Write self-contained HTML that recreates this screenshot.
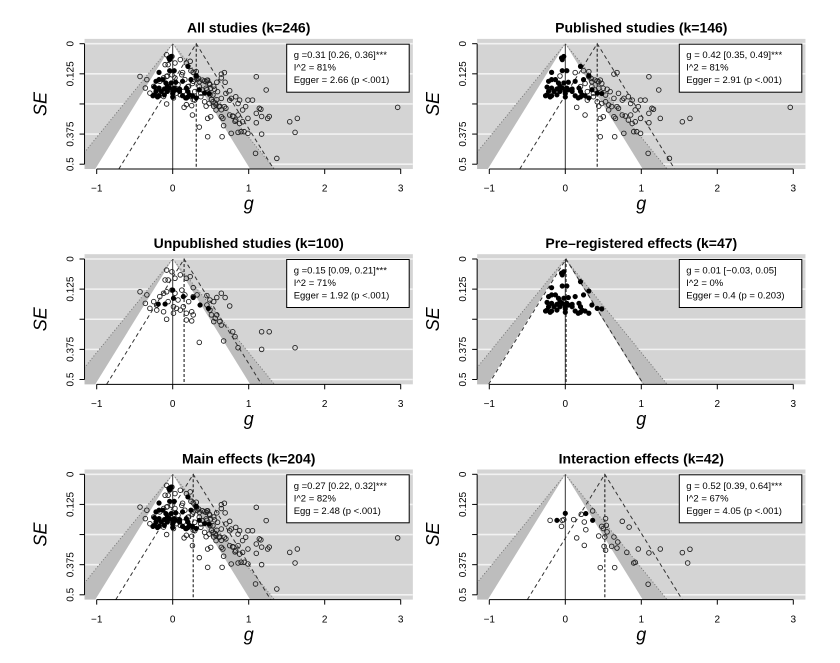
<!DOCTYPE html>
<html><head><meta charset="utf-8">
<style>
body{margin:0;background:#fff;}
svg{display:block;font-family:"Liberation Sans",sans-serif;}
</style></head>
<body>
<svg id="chart" width="840" height="663" viewBox="0 0 840 663" xmlns="http://www.w3.org/2000/svg"></svg>
<script>
const xTicks = [-1, 0, 1, 2, 3];
const xTickLabels = ["\u22121", "0", "1", "2", "3"];
const seTicks = [0, 0.125, 0.25, 0.375, 0.5];
const seTickLabels = ["0", "0.125", "", "0.375", "0.5"];

const preregPoints = [[-0.05,0.059],[-0.02,0.053],[-0.04,0.066],[0.20,0.094],[-0.04,0.112],[0.02,0.112],[-0.18,0.119],[0.31,0.133],[-0.18,0.149],[-0.22,0.156],[-0.13,0.149],[-0.09,0.163],[-0.02,0.163],[0.04,0.160],[0.13,0.156],[0.24,0.149],[-0.24,0.180],[-0.18,0.184],[-0.11,0.188],[-0.04,0.184],[0.02,0.184],[0.18,0.184],[0.04,0.191],[-0.22,0.198],[-0.15,0.198],[-0.07,0.198],[0,0.198],[0.09,0.198],[0.20,0.198],[0.35,0.191],[-0.24,0.212],[-0.18,0.216],[-0.11,0.212],[0,0.207],[0,0.221],[0.13,0.216],[0.20,0.221],[0.26,0.216],[0.31,0.225],[0.42,0.205],[0.48,0.207],[-0.26,0.216],[-0.20,0.221],[0.17,0.225],[0.22,0.212],[0.09,0.188],[-0.07,0.177]];

const publishedOpen = [[-0.07,0.134],[0.13,0.120],[0.24,0.112],[0.31,0.116],[0.34,0.144],[0.39,0.151],[0.42,0.155],[0.44,0.158],[0.46,0.151],[0.48,0.165],[0.35,0.178],[0.39,0.192],[0.44,0.185],[0.50,0.185],[0.55,0.189],[0.59,0.199],[0.64,0.126],[0.68,0.120],[0.35,0.158],[0.29,0.199],[0.37,0.220],[0.42,0.241],[0.44,0.259],[0.48,0.248],[0.53,0.241],[0.57,0.254],[0.61,0.261],[0.68,0.261],[0.75,0.234],[0.83,0.220],[0.88,0.234],[0.96,0.261],[0.92,0.275],[0.99,0.234],[1.05,0.234],[1.14,0.268],[1.10,0.289],[1.16,0.272],[1.25,0.310],[1.10,0.137],[1.23,0.192],[0.15,0.264],[0.26,0.296],[0.46,0.310],[0.50,0.303],[0.64,0.303],[0.66,0.310],[0.75,0.296],[0.79,0.300],[0.86,0.296],[0.88,0.331],[0.92,0.324],[0.99,0.310],[1.10,0.328],[0.77,0.372],[0.90,0.365],[0.94,0.365],[0.99,0.372],[0.46,0.386],[0.65,0.386],[0.83,0.317],[0.70,0.268],[0.57,0.275],[0.64,0.227],[0.29,0.234],[1.54,0.324],[1.64,0.310],[1.37,0.476],[1.09,0.455],[2.96,0.264],[0.53,0.213],[0.70,0.206],[0.77,0.227],[0.86,0.248],[0.26,0.165],[0.20,0.178],[0.31,0.137],[0.37,0.206]];

const unpublishedOpen = [[-0.08,0.046],[-0.01,0.053],[-0.10,0.087],[-0.06,0.087],[0.03,0.080],[0.10,0.066],[0.18,0.080],[0.23,0.073],[-0.43,0.136],[-0.34,0.149],[-0.36,0.184],[-0.25,0.177],[-0.17,0.156],[-0.12,0.142],[-0.08,0.136],[-0.01,0.129],[0.03,0.142],[0.12,0.129],[0.16,0.149],[0.27,0.119],[0.21,0.177],[0.27,0.156],[0.32,0.149],[-0.06,0.177],[0.01,0.198],[0.05,0.205],[-0.12,0.219],[-0.21,0.212],[-0.08,0.250],[0.01,0.225],[0.10,0.212],[0.14,0.198],[0.18,0.225],[0.25,0.219],[0.27,0.232],[0.18,0.253],[0.25,0.257],[0.45,0.152],[0.49,0.170],[0.54,0.177],[0.58,0.160],[0.64,0.142],[0.69,0.160],[0.75,0.195],[0.45,0.191],[0.49,0.212],[0.51,0.232],[0.56,0.246],[0.58,0.232],[0.62,0.260],[0.54,0.260],[0.64,0.274],[0.79,0.302],[0.82,0.322],[0.86,0.368],[0.67,0.340],[0.35,0.346],[1.17,0.302],[1.27,0.302],[1.17,0.375],[1.61,0.368],[-0.30,0.205],[-0.21,0.191],[0.07,0.170]];
const unpublishedFilled = [[0,0.129],[0.01,0.163],[-0.19,0.187],[-0.10,0.187],[0.14,0.156],[0.27,0.160],[0.36,0.191],[0.47,0.205]];

const interactionOpen = [[-0.20,0.191],[-0.04,0.191],[-0.02,0.188],[-0.05,0.216],[0.11,0.188],[0.21,0.166],[0.25,0.198],[0.27,0.230],[0.15,0.264],[0.25,0.295],[0.44,0.256],[0.36,0.152],[0.48,0.216],[0.53,0.184],[0.50,0.225],[0.54,0.212],[0.55,0.239],[0.52,0.260],[0.64,0.260],[0.69,0.281],[0.61,0.299],[0.51,0.299],[0.68,0.306],[0.53,0.315],[0.81,0.324],[0.75,0.195],[0.84,0.219],[0.96,0.310],[1.10,0.326],[1.25,0.310],[1.54,0.325],[1.64,0.311],[1.61,0.368],[0.90,0.368],[0.92,0.365],[0.46,0.387],[0.65,0.387],[1.09,0.456]];
const interactionFilled = [[-0.11,0.191],[0,0.162],[0.27,0.163],[0.36,0.191]];

const panelTitles = ["All studies (k=246)","Published studies (k=146)","Unpublished studies (k=100)","Pre\u2013registered effects (k=47)","Main effects (k=204)","Interaction effects (k=42)"];
const panelEstimates = [0.31, 0.42, 0.15, 0.01, 0.27, 0.52];
const panelLine1 = ["g =0.31 [0.26, 0.36]***","g = 0.42 [0.35, 0.49]***","g =0.15 [0.09, 0.21]***","g = 0.01 [\u22120.03, 0.05]","g =0.27 [0.22, 0.32]***","g = 0.52 [0.39, 0.64]***"];
const panelLine2 = ["I^2 = 81%","I^2 = 81%","I^2 = 71%","I^2 = 0%","I^2 = 82%","I^2 = 67%"];
const panelLine3 = ["Egger = 2.66 (p <.001)","Egger = 2.91 (p <.001)","Egger = 1.92 (p <.001)","Egger = 0.4 (p = 0.203)","Egg = 2.48 (p <.001)","Egger = 4.05 (p <.001)"];
const panelOpen = [publishedOpen.concat(unpublishedOpen), publishedOpen, unpublishedOpen, [], publishedOpen.concat(unpublishedOpen), interactionOpen];
const panelFilled = [preregPoints, preregPoints, unpublishedFilled, preregPoints, preregPoints, interactionFilled];

const NS = "http://www.w3.org/2000/svg";
const svg = document.getElementById("chart");
function mk(tag, attrs, parent){const e=document.createElementNS(NS,tag);for(const k in attrs)e.setAttribute(k,attrs[k]);(parent||svg).appendChild(e);return e;}

const colOff = [0, 392.6];
const rowY = [43.7, 259, 474.3];
for (let p=0;p<6;p++){
  const xo = colOff[p%2], y0 = rowY[Math.floor(p/2)];
  const gx = g => 172.7 + xo + 76*g;
  const sy = s => y0 + 241*s;
  const G = mk("g",{});
  
  
  const cid = "clip"+p;
  const cp = mk("clipPath",{id:cid},G);
  mk("rect",{x:gx(-1.16),y:sy(-0.02),width:gx(3.16)-gx(-1.16),height:sy(0.52)-sy(-0.02)},cp);
  const bg = mk("rect",{x:gx(-1.16),y:sy(-0.02),width:gx(3.16)-gx(-1.16),height:sy(0.52)-sy(-0.02),fill:"#d4d4d4"},G);
  
  
  const C = mk("g",{"clip-path":"url(#"+cid+")"},G);
  seTicks.forEach(s=>{mk("line",{x1:gx(-1.16),x2:gx(3.16),y1:sy(s),y2:sy(s),stroke:"#f2f2f2","stroke-width":1.6},C);});
  const sb=0.52, z99=2.576, z95=1.96;
  const band = mk("polygon",{points:`${gx(0)},${sy(0)} ${gx(-z99*sb)},${sy(sb)} ${gx(z99*sb)},${sy(sb)}`,fill:"#bdbdbd"},C);
  
  
  const wt = mk("polygon",{points:`${gx(0)},${sy(0)} ${gx(-z95*sb)},${sy(sb)} ${gx(z95*sb)},${sy(sb)}`,fill:"#ffffff"},C);
  
  
  mk("polyline",{points:`${gx(-z99*sb)},${sy(sb)} ${gx(0)},${sy(0)} ${gx(z99*sb)},${sy(sb)}`,fill:"none",stroke:"#777","stroke-width":1,"stroke-dasharray":"1,2"},C);
  const est = panelEstimates[p];
  const df = mk("polyline",{points:`${gx(est-z95*sb)},${sy(sb)} ${gx(est)},${sy(0)} ${gx(est+z95*sb)},${sy(sb)}`,fill:"none",stroke:"#333","stroke-width":1,"stroke-dasharray":"4,3"},C);
  
  
  mk("line",{x1:gx(0),x2:gx(0),y1:sy(0),y2:sy(sb),stroke:"#333","stroke-width":1},C);
  const ve = mk("line",{x1:gx(est),x2:gx(est),y1:sy(0),y2:sy(sb),stroke:"#333","stroke-width":1.2,"stroke-dasharray":"3,2"},C);
  
  
  panelOpen[p].forEach(d=>{
    const c = mk("circle",{cx:gx(d[0]),cy:sy(d[1]),r:2.3,fill:"none",stroke:"#222","stroke-width":0.9},C);
    
    
  });
  panelFilled[p].forEach(d=>{
    const c = mk("circle",{cx:gx(d[0]),cy:sy(d[1]),r:2.3,fill:"#000",stroke:"#000","stroke-width":0.6},C);
    
    
  });
  const xb = sy(0.52);
  mk("line",{x1:gx(-1),x2:gx(3),y1:xb,y2:xb,stroke:"#000","stroke-width":1},G);
  xTicks.forEach((t,i)=>{
    mk("line",{x1:gx(t),x2:gx(t),y1:xb,y2:xb+5,stroke:"#000","stroke-width":1},G);
    const tl = mk("text",{x:gx(t),y:y0+148,"font-size":10,"text-anchor":"middle",fill:"#000"},G);
    tl.textContent = xTickLabels[i];
    
    
  });
  const yl = gx(-1.16);
  mk("line",{x1:yl,x2:yl,y1:sy(0),y2:sy(0.5),stroke:"#000","stroke-width":1},G);
  seTicks.forEach((s,i)=>{
    mk("line",{x1:yl-5,x2:yl,y1:sy(s),y2:sy(s),stroke:"#000","stroke-width":1},G);
    const tl = mk("text",{x:0,y:0,"font-size":10,"text-anchor":"middle",fill:"#000",transform:`translate(${yl-11},${sy(s)}) rotate(-90)`},G);
    tl.textContent = seTickLabels[i];
    
    
  });
  const ttl = mk("text",{x:gx(1),y:y0-11,"font-size":14,"font-weight":"bold","text-anchor":"middle",fill:"#000"},G);
  ttl.textContent = panelTitles[p];
  
  
  const xt = mk("text",{x:gx(1),y:y0+166,"font-size":18,"font-style":"italic","text-anchor":"middle",fill:"#000"},G);
  xt.textContent = "g";
  
  
  const ytt = mk("text",{x:0,y:0,"font-size":18,"font-style":"italic","text-anchor":"middle",fill:"#000",transform:`translate(${yl-38},${sy(0.25)}) rotate(-90)`},G);
  ytt.textContent = "SE";
  
  
  const lx = 286.7 + xo, ly = y0 + 0.5;
  const lb = mk("rect",{x:lx,y:ly,width:122.5,height:48,fill:"#fff",stroke:"#000","stroke-width":1},G);
  
  
  [panelLine1[p],panelLine2[p],panelLine3[p]].forEach((s,i)=>{
    const t = mk("text",{x:lx+7,y:ly+14+i*12.5,"font-size":9.5,fill:"#000"},G);
    t.textContent = s;
    
    
  });
}
</script>
</body></html>
